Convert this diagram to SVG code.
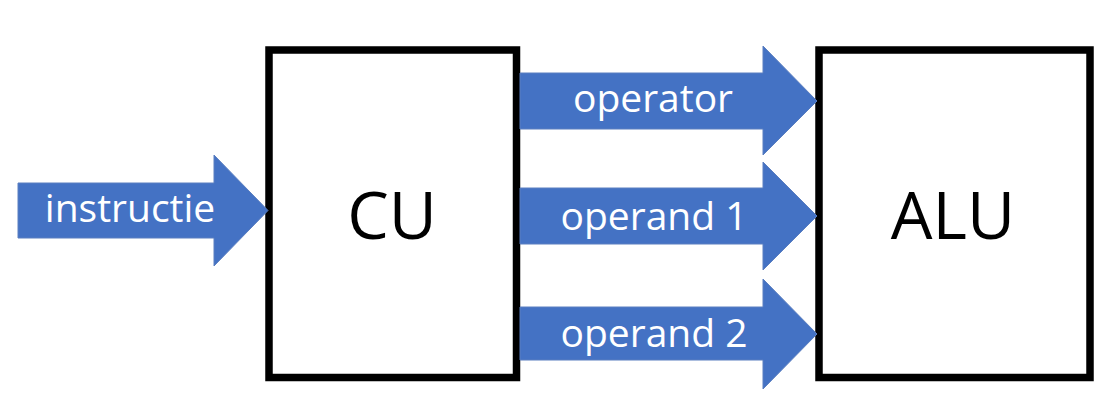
<svg xmlns="http://www.w3.org/2000/svg" width="1110" height="408" viewBox="0 0 1110 408">
  <style>
    .box { fill: #FFFFFF; stroke: #000000; stroke-width: 7.5; }
    .arrow { fill: #4472C4; stroke: #5B7FC0; stroke-width: 1; }
    .big { font-family: "Open Sans", "Liberation Sans", sans-serif; font-size: 66px; fill: #000000; text-anchor: middle; }
    .lbl { font-family: "Open Sans", "Liberation Sans", sans-serif; font-size: 39px; fill: #FFFFFF; text-anchor: middle; }
  </style>
  <rect width="1110" height="408" fill="#FFFFFF"/>
  <g id="cu">
    <rect class="box" x="269" y="50" width="247.5" height="327.5"/>
    <text class="big" x="392" y="239">CU</text>
  </g>
  <g id="alu">
    <rect class="box" x="819" y="50" width="271" height="327.5"/>
    <text class="big" x="953" y="239">ALU</text>
  </g>
  <g id="connectors">
    <g id="arrow-instructie">
      <polygon class="arrow" points="18,183 214,183 214,155 268,210.5 214,266 214,238 18,238"/>
      <text class="lbl" x="130" y="222">instructie</text>
    </g>
    <g id="arrow-operator">
      <polygon class="arrow" points="520,73 763,73 763,46 817,101 763,155 763,129 520,129"/>
      <text class="lbl" x="653" y="112">operator</text>
    </g>
    <g id="arrow-operand1">
      <polygon class="arrow" points="520,188 763,188 763,162 817,216 763,270 763,244 520,244"/>
      <text class="lbl" x="654" y="230">operand 1</text>
    </g>
    <g id="arrow-operand2">
      <polygon class="arrow" points="520,307 763,307 763,279 817,334 763,389 763,360 520,360"/>
      <text class="lbl" x="654" y="347">operand 2</text>
    </g>
  </g>
</svg>
